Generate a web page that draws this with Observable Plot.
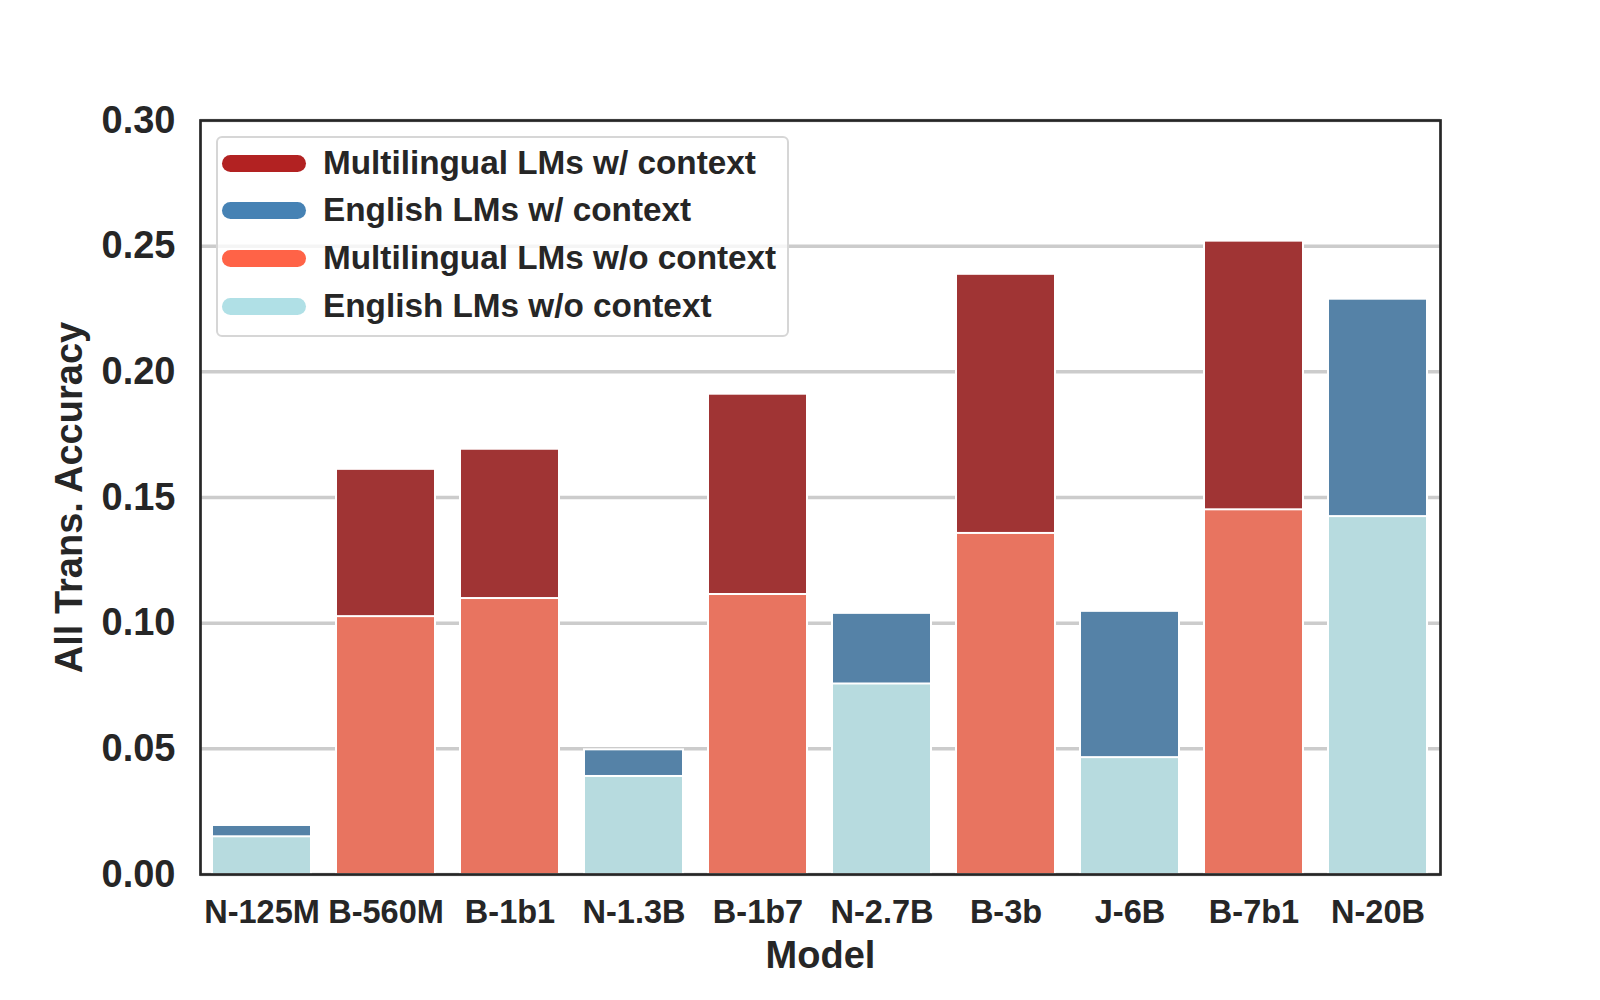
<!DOCTYPE html>
<html>
<head>
<meta charset="utf-8">
<script src="https://cdn.jsdelivr.net/npm/d3@7"></script>
<script src="https://cdn.jsdelivr.net/npm/@observablehq/plot@0.6"></script>
<style>
  html, body { margin: 0; padding: 0; background: #fff; }
  #wrap { position: relative; width: 1600px; height: 1000px; font-family: "Liberation Sans", Arial, sans-serif; color: #262626; }
  #legend { position: absolute; left: 216px; top: 136px; width: 573px; height: 201px; box-sizing: border-box;
    border: 2px solid #d6d6d6; border-radius: 6px; background: rgba(255,255,255,0.8); }
  .row { position: absolute; left: 0; height: 40px; }
  .sw { position: absolute; left: 4px; width: 84px; height: 17px; border-radius: 8.5px; }
  .lbl { position: absolute; left: 105px; white-space: nowrap; font-size: 33.3px; font-weight: bold; line-height: 40px; }
</style>
</head>
<body>
<div id="wrap"></div>
<script>
const models = ["N-125M", "B-560M", "B-1b1", "N-1.3B", "B-1b7", "N-2.7B", "B-3b", "J-6B", "B-7b1", "N-20B"];
const multilingual = [false, true, true, false, true, false, true, false, true, false];
const withContext = [0.0195, 0.1612, 0.1692, 0.0496, 0.1911, 0.1039, 0.2388, 0.1047, 0.2520, 0.2289];
const withoutContext = [0.0150, 0.1026, 0.1098, 0.0390, 0.1114, 0.0758, 0.1357, 0.0465, 0.1451, 0.1424];
const seriesNames = ["Multilingual LMs w/ context", "English LMs w/ context", "Multilingual LMs w/o context", "English LMs w/o context"];
const barColors = ["#a03434", "#5582a7", "#e87460", "#b7dbdf"];
const legendColors = ["#b22222", "#4682b4", "#ff6347", "#b0e0e6"];
const yTicks = [0, 0.05, 0.10, 0.15, 0.20, 0.25, 0.30];

const rowsWith = models.map((m, i) => ({model: m, value: withContext[i], series: multilingual[i] ? seriesNames[0] : seriesNames[1]}));
const rowsWithout = models.map((m, i) => ({model: m, value: withoutContext[i], series: multilingual[i] ? seriesNames[2] : seriesNames[3]}));

const font = "Liberation Sans, Arial, sans-serif";
const chart = Plot.plot({
  width: 1600,
  height: 1000,
  marginLeft: 200,
  marginRight: 160,
  marginTop: 120,
  marginBottom: 126,
  style: {fontFamily: font, color: "#262626", background: "#fff"},
  x: {domain: models, paddingInner: 0.2, paddingOuter: 0.1},
  y: {domain: [0, 0.30]},
  color: {domain: seriesNames, range: barColors},
  marks: [
    Plot.gridY(yTicks, {stroke: "#cccccc", strokeWidth: 3.5, strokeOpacity: 1}),
    Plot.barY(rowsWith, {x: "model", y: "value", fill: "series", stroke: "#ffffff", strokeWidth: 2}),
    Plot.barY(rowsWithout, {x: "model", y: "value", fill: "series", stroke: "#ffffff", strokeWidth: 2}),
    Plot.axisY(yTicks, {tickSize: 0, tickPadding: 25, fontSize: 38, fontWeight: "bold", tickFormat: d3.format(".2f"), label: null}),
    Plot.axisX({tickSize: 0, tickPadding: 25, fontSize: 32.5, fontWeight: "bold", label: null}),
    Plot.text(["Model"], {frameAnchor: "bottom", dy: 93, fontSize: 38, fontWeight: "bold", fill: "#262626"}),
    Plot.text(["All Trans. Accuracy"], {frameAnchor: "left", dx: -131, rotate: -90, textAnchor: "middle", lineAnchor: "middle", fontSize: 38, fontWeight: "bold", fill: "#262626"}),
    Plot.frame({stroke: "#262626", strokeWidth: 2.7})
  ]
});

const wrap = document.getElementById("wrap");
wrap.appendChild(chart);

const legend = document.createElement("div");
legend.id = "legend";
const centers = [25.3, 72.2, 120.2, 168.1];
seriesNames.forEach((name, i) => {
  const row = document.createElement("div");
  row.className = "row";
  row.style.top = (centers[i] - 20) + "px";
  const sw = document.createElement("div");
  sw.className = "sw";
  sw.style.background = legendColors[i];
  sw.style.top = "11.5px";
  const lbl = document.createElement("div");
  lbl.className = "lbl";
  lbl.textContent = name;
  row.appendChild(sw);
  row.appendChild(lbl);
  legend.appendChild(row);
});
wrap.appendChild(legend);
</script>
</body>
</html>
